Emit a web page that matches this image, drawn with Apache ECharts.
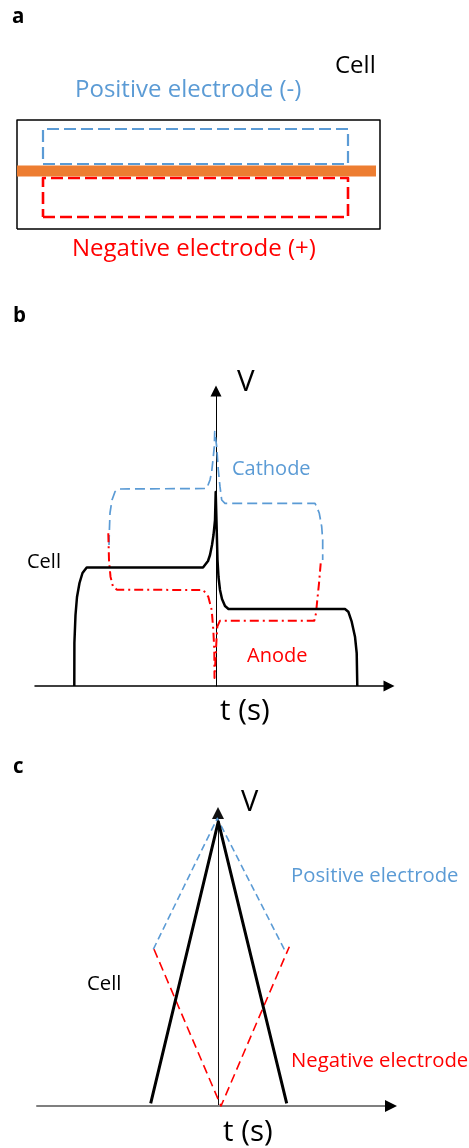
<!DOCTYPE html>
<html>
<head>
<meta charset="utf-8">
<script src="https://cdn.jsdelivr.net/npm/echarts@6/dist/echarts.min.js"></script>
<style>
html,body{margin:0;padding:0;background:#fff;}
#chart{width:469px;height:1148px;}
</style>
</head>
<body>
<div id="chart"></div>
<script>
// ---------- Panel a : cell schematic (arbitrary length units) ----------
const cellBoxA   = [[0,0],[363,0],[363,109],[0,109],[0,0]];
const posRectA   = [[26,65],[331,65],[331,100],[26,100],[26,65]];
const separatorA = [[0,58],[359,58]];
const negRectA   = [[26,12],[331,12],[331,51],[26,51],[26,12]];

// ---------- Panel b : galvanostatic profile (t, V in arbitrary units) ----------
const cellB = [[-141.7,0],[-141.6,43],[-140.5,71],[-139,89],[-136.5,103],[-133.5,113],[-129.3,118.5],
  [-13,118.5],[-11,120.5],[-8,125],[-6,131],[-4,141],[-2.5,151],[-1,166],[-0.3,194],
  [0.5,194],[0.8,153],[1.5,126],[2.5,109],[4,96],[6,87],[9,80],[12.5,77],
  [129,77],[132.3,74.3],[135.7,64.3],[139,49.3],[140.7,33],[141.3,0]];
const cathodeB = [[-107,141],[-106.7,153],[-106,173],[-104,186],[-101,194.3],[-98,197],
  [-9.3,197.5],[-6,206],[-4.3,214.3],[-2.7,229.3],[-1.7,239.3],[-1.3,254.3],
  [0.7,239.3],[2.3,216],[4,199.3],[5.7,186],[9,182.7],
  [99,182.7],[100.7,179.3],[103.3,172.7],[105.7,159.3],[106.7,146],[106.7,126]];
const anodeB = [[-107.7,152.7],[-107,126],[-105.5,109.3],[-103,99.3],[-99,96.3],
  [-12.7,96],[-7.7,89.3],[-4.3,76],[-2.7,56],[-1.7,36],[-1.5,8],
  [-0.5,6],[0.5,46],[1.3,59.3],[4,65.3],
  [98.3,65.3],[100,72.7],[101.3,86],[103,102.7],[104.7,122.7]];

// ---------- Panel c : cyclic voltammetry-like triangle profile ----------
const cellC = [[-67.3,2.7],[0.3,284.3],[68.7,2.7]];
const posC  = [[-64.7,156.7],[-0.7,287.7],[68,153.3]];
const negC  = [[-64,156.7],[3,0],[71.3,159.3]];

// ---------- texts ----------
const panelLabels = ['a','b','c'];
const axisNames = {v:'V', t:'t (s)'};

const BLUE = '#5B9BD5', RED = '#FF0000', ORANGE = '#ED7D31', BLACK = '#000000';
const FONT = '"Open Sans", "Noto Sans", sans-serif';

const chart = echarts.init(document.getElementById('chart'), null, {renderer:'canvas'});

function hiddenAxis(gridIndex, min, max){
  return {type:'value', gridIndex, min, max, show:false};
}
function lineSeries(data, xi, color, width, type, z){
  return {type:'line', xAxisIndex:xi, yAxisIndex:xi, data, showSymbol:false, symbol:'none',
    clip:false, animation:false, silent:true, z: z||2,
    lineStyle:{color, width, type, cap:'butt', join:'round'}};
}
function txt(text, x, y, size, color, weight){
  return {type:'text', x, y, silent:true,
    style:{text, fill:color, font:(weight||'normal')+' '+size+'px '+FONT, align:'left', verticalAlign:'middle'}};
}
const noParts = {axisTick:{show:false}, axisLabel:{show:false}, splitLine:{show:false}};

const option = {
  backgroundColor:'#fff',
  animation:false,
  grid:[
    {left:17, top:120, width:363, height:109, containLabel:false},
    {left:35, top:391, width:354, height:295, containLabel:false},
    {left:37, top:813, width:354, height:293, containLabel:false}
  ],
  xAxis:[
    hiddenAxis(0,0,363),
    Object.assign({type:'value', gridIndex:1, min:-181, max:173,
      axisLine:{show:true, onZero:true, symbol:['none','triangle'], symbolSize:[11,11],
        lineStyle:{color:BLACK, width:1.5}}}, noParts),
    Object.assign({type:'value', gridIndex:2, min:-181, max:173,
      axisLine:{show:true, onZero:true, symbol:['none','none'],
        lineStyle:{color:'#7f7f7f', width:2}}}, noParts),
    Object.assign({type:'value', gridIndex:2, min:-181, max:173, position:'bottom',
      axisLine:{show:true, onZero:false, symbol:['none','triangle'], symbolSize:[12,12],
        lineStyle:{color:BLACK, width:0}}}, noParts)
  ],
  yAxis:[
    hiddenAxis(0,0,109),
    Object.assign({type:'value', gridIndex:1, min:0, max:295,
      axisLine:{show:true, onZero:true, symbol:['none','triangle'], symbolSize:[11,11],
        lineStyle:{color:BLACK, width:1}}}, noParts),
    Object.assign({type:'value', gridIndex:2, min:0, max:293,
      axisLine:{show:true, onZero:true, onZeroAxisIndex:2, symbol:['none','triangle'], symbolSize:[12,12],
        lineStyle:{color:'#111', width:1}}}, noParts)
  ],
  series:[
    lineSeries(cellBoxA, 0, BLACK, 1.5, 'solid', 2),
    lineSeries(posRectA, 0, BLUE, 2.2, [12,5], 3),
    lineSeries(negRectA, 0, RED, 2.6, [12,5], 3),
    lineSeries(separatorA, 0, ORANGE, 11, 'solid', 4),

    lineSeries(cathodeB, 1, BLUE, 1.7, [10,5], 3),
    lineSeries(anodeB, 1, RED, 2, [9,4,2,4], 3),
    lineSeries(cellB, 1, BLACK, 2.5, 'solid', 4),

    Object.assign(lineSeries(posC, 2, BLUE, 1.6, [7,4], 3), {xAxisIndex:2, yAxisIndex:2}),
    Object.assign(lineSeries(negC, 2, RED, 1.6, [9,5], 3), {xAxisIndex:2, yAxisIndex:2}),
    Object.assign(lineSeries(cellC, 2, BLACK, 3, 'solid', 4), {xAxisIndex:2, yAxisIndex:2})
  ],
  graphic:[
    txt(panelLabels[0], 12, 16.7, 20.5, BLACK, 'bold'),
    txt('Cell', 335, 66.4, 24, BLACK),
    txt('Positive electrode (-)', 75, 90.4, 24, BLUE),
    txt('Negative electrode (+)', 72, 249.1, 24, RED),

    txt(panelLabels[1], 13, 315.7, 20.5, BLACK, 'bold'),
    txt(axisNames.v, 237, 382.5, 29.5, BLACK),
    txt('Cathode', 232, 468.9, 20, BLUE),
    txt('Cell', 27, 562.2, 20, BLACK),
    txt('Anode', 247, 656.2, 20, RED),
    txt(axisNames.t, 220, 711.2, 29.5, BLACK),

    txt(panelLabels[2], 13, 766.7, 20.5, BLACK, 'bold'),
    txt(axisNames.v, 241, 802.5, 29, BLACK),
    txt('Positive electrode', 291, 876.2, 20.3, BLUE),
    txt('Cell', 87, 983.9, 20.3, BLACK),
    txt('Negative electrode', 291, 1061.2, 20.3, RED),
    txt(axisNames.t, 223, 1132.8, 29.5, BLACK)
  ]
};
chart.setOption(option);
</script>
</body>
</html>
